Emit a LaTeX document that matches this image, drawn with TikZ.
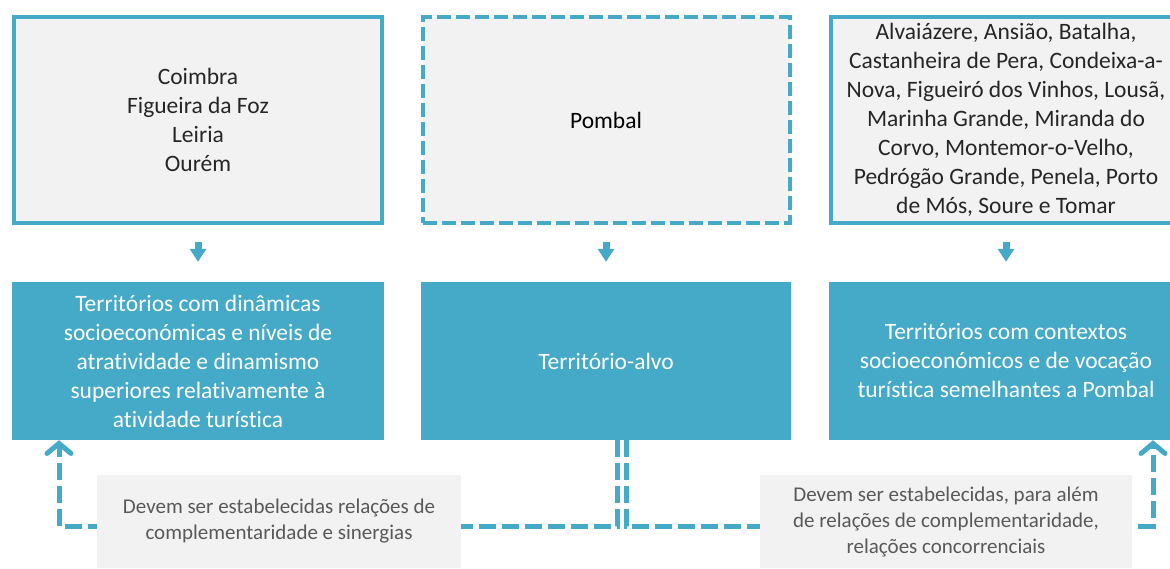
\documentclass[tikz,border=0pt]{standalone}
\usepackage{fontspec}
\setmainfont{Carlito}[Ligatures=NoCommon]
\usetikzlibrary{arrows.meta}
\definecolor{tealblue}{RGB}{69,170,199}
\definecolor{boxgray}{RGB}{242,242,242}
\definecolor{darktext}{RGB}{38,38,38}
\definecolor{notetext}{RGB}{89,89,89}
\begin{document}
\begin{tikzpicture}[x=1pt, y=-1pt, font=\fontsize{23.5}{29}\selectfont]
\tikzstyle{every node} = [rectangle, align=center, inner sep=0pt]
\tikzstyle{list} = [fill=boxgray, draw=tealblue, line width=4pt, minimum height=206pt, text=darktext]
\tikzstyle{group} = [fill=tealblue, minimum height=158pt, text=white]
\tikzstyle{note} = [fill=boxgray, text=notetext, minimum height=93pt, font=\fontsize{21}{26}\selectfont]
\tikzstyle{link} = [draw=tealblue, line width=5pt, dash pattern=on 17pt off 6pt]
\path[use as bounding box, clip] (0,0) rectangle (1170,569);
% municipalities
\node (c1) at (198,120) [list, minimum width=368pt] {Coimbra\\Figueira da Foz\\Leiria\\Ourém};
\node (c2) at (606,120) [list, minimum width=367pt, dash pattern=on 14pt off 5pt] {\color{black}Pombal};
\node (c3) at (1006,120) [list, minimum width=350pt] {Alvaiázere, Ansião, Batalha,\\Castanheira de Pera, Condeixa-a-\\Nova, Figueiró dos Vinhos, Lousã,\\Marinha Grande, Miranda do\\Corvo, Montemor-o-Velho,\\Pedrógão Grande, Penela, Porto\\de Mós, Soure e Tomar};
% groups
\node (g1) at (198,361) [group, minimum width=372pt] {Territórios com dinâmicas\\socioeconómicas e níveis de\\atratividade e dinamismo\\superiores relativamente à\\atividade turística};
\node (g2) at (606,361) [group, minimum width=370pt] {Território-alvo};
\node (g3) at (1006,361) [group, minimum width=354pt] {Territórios com contextos\\socioeconómicos e de vocação\\turística semelhantes a Pombal};
\foreach \from/\to in {c1/g1, c2/g2, c3/g3}
  \draw [-{Triangle[width=16pt, length=13pt]}, tealblue, line width=7pt, shorten <=17pt, shorten >=20pt] (\from) -- (\to);
% relations
\coordinate (lturn) at (59,526);
\coordinate (rturn) at (1153,526);
\draw [link, -{Straight Barb[length=10pt, width=24pt, line cap=round]}] ([xshift=11pt]g2.south) |- (lturn) -- (lturn |- g1.south);
\draw [link, -{Straight Barb[length=10pt, width=24pt, line cap=round]}] ([xshift=20pt]g2.south) |- (rturn) -- (rturn |- g3.south);
\node (n1) at (279,521.5) [note, minimum width=364pt] {Devem ser estabelecidas relações de\\complementaridade e sinergias};
\node (n2) at (946,521.5) [note, minimum width=372pt] {Devem ser estabelecidas, para além\\de relações de complementaridade,\\relações concorrenciais};
\end{tikzpicture}
\end{document}
